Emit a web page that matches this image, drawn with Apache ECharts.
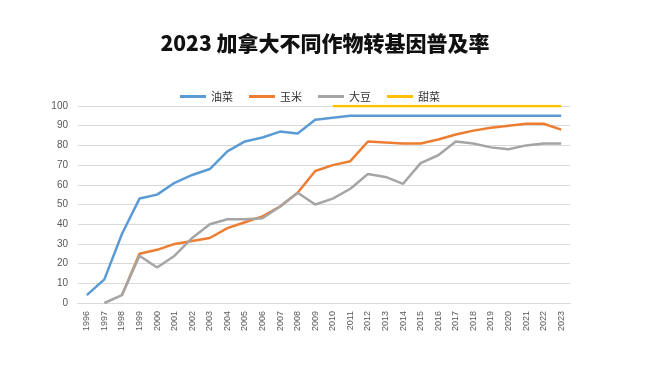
<!DOCTYPE html>
<html><head><meta charset="utf-8">
<script src="https://cdn.jsdelivr.net/npm/echarts@6/dist/echarts.min.js"></script>
<style>html,body{margin:0;padding:0;background:#fff}#c{width:650px;height:365px}</style>
</head><body><div id="c"></div>
<script>
const years = ['1996','1997','1998','1999','2000','2001','2002','2003','2004','2005','2006','2007','2008','2009','2010','2011','2012','2013','2014','2015','2016','2017','2018','2019','2020','2021','2022','2023'];
const canola = [4,12,35,53,55,61,65,68,77,82,84,87,86,93,94,95,95,95,95,95,95,95,95,95,95,95,95,95];
const corn = [null,null,4,25,27,30,31.5,33,38,41,44,49,56,67,70,72,82,81.5,81,81,83,85.5,87.5,89,90,91,91,88];
const soy = [null,0,4,24,18,24,33,40,42.5,42.5,43,49,56,50,53,58,65.5,64,60.5,71,75,82,81,79,78,80,81,81];
const beet = [null,null,null,null,null,null,null,null,null,null,null,null,null,null,100,100,100,100,100,100,100,100,100,100,100,100,100,100];
const names = ['油菜','玉米','大豆','甜菜'];
const colors = ['#5B9BD5','#ED7D31','#A5A5A5','#FFC000'];
const chart = echarts.init(document.getElementById('c'));
const mk = (n,d,c)=>({name:n,type:'line',data:d,symbol:'none',smooth:false,lineStyle:{width:2.5,color:c},itemStyle:{color:c}});
chart.setOption({
  animation:false,
  backgroundColor:'#fff',
  title:{text:'2023 加拿大不同作物转基因普及率',left:'center',top:28,textStyle:{fontFamily:'Noto Sans CJK SC',fontWeight:900,fontSize:21,color:'#111'}},
  legend:{top:86,left:175,itemWidth:26,itemHeight:3,itemGap:16,icon:'rect',textStyle:{fontFamily:'Noto Sans CJK SC',fontSize:11,color:'#333'},data:names},
  grid:{left:78,right:80,top:106,bottom:62},
  xAxis:{type:'category',data:years,boundaryGap:true,axisLine:{lineStyle:{color:'#d9d9d9'}},axisTick:{show:false},axisLabel:{rotate:90,fontSize:9,color:'#595959',interval:0,fontFamily:'Liberation Sans'}},
  yAxis:{type:'value',min:0,max:100,interval:10,axisLine:{show:false},axisTick:{show:false},splitLine:{lineStyle:{color:'#d9d9d9'}},axisLabel:{fontSize:10,color:'#595959',fontFamily:'Liberation Sans',margin:10}},
  series:[mk(names[0],canola,colors[0]),mk(names[1],corn,colors[1]),mk(names[2],soy,colors[2]),mk(names[3],beet,colors[3])]
});
</script></body></html>
